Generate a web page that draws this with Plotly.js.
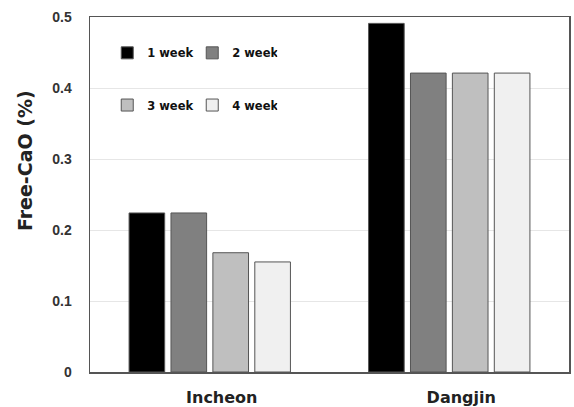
<!DOCTYPE html>
<html>
<head>
<meta charset="utf-8">
<script src="https://cdn.plot.ly/plotly-3.0.1.min.js"></script>
<style>
  html, body { margin: 0; padding: 0; background: #fff; }
  #chart { width: 574px; height: 407px; }
</style>
</head>
<body>
<div id="chart"></div>
<script>
// Free-CaO content by site and curing age
const sites = ["Incheon", "Dangjin"];
const weekNames = ["1 week", "2 week", "3 week", "4 week"];
const week1 = [0.224, 0.491];
const week2 = [0.224, 0.421];
const week3 = [0.168, 0.421];
const week4 = [0.155, 0.421];
const yTicks = [0, 0.1, 0.2, 0.3, 0.4, 0.5];
const yTitle = "Free-CaO (%)";

const fills = ["#000000", "#808080", "#bfbfbf", "#f0f0f0"];
const series = [week1, week2, week3, week4];
const legendIds = ["legend", "legend", "legend2", "legend2"];

const traces = series.map((vals, i) => ({
  type: "bar",
  name: weekNames[i],
  x: sites,
  y: vals,
  legend: legendIds[i],
  marker: { color: fills[i], line: { color: "#555555", width: 1 } }
}));

const sans = "Liberation Sans, Arial, sans-serif";
const wide = "DejaVu Sans, Verdana, sans-serif";

const legendBase = {
  orientation: "h",
  xanchor: "left",
  yanchor: "middle",
  bgcolor: "rgba(0,0,0,0)",
  font: { family: wide, size: 11.5, color: "#111", weight: "bold" },
  entrywidth: 40,
  entrywidthmode: "pixels",
  itemwidth: 30
};

const layout = {
  width: 574,
  height: 407,
  margin: { l: 90, r: 5, t: 17, b: 35 },
  paper_bgcolor: "#ffffff",
  plot_bgcolor: "#ffffff",
  font: { family: sans, color: "#222" },
  barmode: "group",
  bargap: 0.3,
  bargroupgap: 0.15,
  showlegend: true,
  legend: Object.assign({}, legendBase, { x: 0.036, y: 0.899 }),
  legend2: Object.assign({}, legendBase, { x: 0.036, y: 0.752 }),
  xaxis: {
    type: "category",
    showline: true,
    linecolor: "#555555",
    linewidth: 1.5,
    mirror: true,
    ticks: "",
    ticklabelstandoff: 10,
    ticklabelshift: 12,
    tickfont: { family: wide, size: 16, color: "#222", weight: "bold" },
    showgrid: false,
    zeroline: false
  },
  yaxis: {
    range: [0, 0.5],
    tickvals: yTicks,
    ticktext: yTicks.map(v => String(v)),
    showline: true,
    linecolor: "#555555",
    linewidth: 1.5,
    mirror: true,
    ticks: "",
    ticklabelstandoff: 14,
    tickfont: { family: sans, size: 14, color: "#333", weight: "bold" },
    showgrid: true,
    gridcolor: "#e6e6e6",
    gridwidth: 1,
    zeroline: false
  },
  annotations: [{
    text: yTitle,
    xref: "paper",
    yref: "paper",
    x: -0.1357,
    y: 0.597,
    xanchor: "center",
    yanchor: "middle",
    textangle: -90,
    showarrow: false,
    font: { family: wide, size: 19, color: "#222", weight: "bold" }
  }]
};

Plotly.newPlot("chart", traces, layout, { staticPlot: true, displayModeBar: false });
</script>
</body>
</html>
